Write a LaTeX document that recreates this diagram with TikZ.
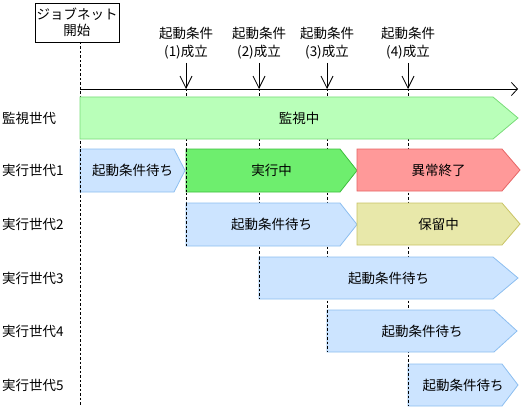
\documentclass[tikz,border=0pt]{standalone}
\usepackage{fontspec}
\setmainfont{Noto Sans CJK JP}
\usetikzlibrary{arrows.meta}
\definecolor{monfill}{RGB}{185,255,185}
\definecolor{mondraw}{RGB}{120,220,120}
\definecolor{waitfill}{RGB}{204,228,255}
\definecolor{waitdraw}{RGB}{140,190,240}
\definecolor{runfill}{RGB}{110,238,110}
\definecolor{rundraw}{RGB}{60,190,60}
\definecolor{errfill}{RGB}{255,153,153}
\definecolor{errdraw}{RGB}{230,100,100}
\definecolor{holdfill}{RGB}{232,232,170}
\definecolor{holddraw}{RGB}{200,195,100}
\tikzset{
  dashline/.style={line width=0.8pt, dash pattern=on 2.5pt off 2pt},
  monbar/.style={fill=monfill, draw=mondraw, line width=0.8pt},
  waitbar/.style={fill=waitfill, draw=waitdraw, line width=0.8pt},
  runbar/.style={fill=runfill, draw=rundraw, line width=0.8pt},
  errbar/.style={fill=errfill, draw=errdraw, line width=0.8pt},
  holdbar/.style={fill=holdfill, draw=holddraw, line width=0.8pt},
  rowlabel/.style={anchor=west, inner sep=0pt},
  evlabel/.style={align=center, inner sep=0pt, font=\fontsize{13.5}{18}\selectfont},
  evarrow/.style={line width=0.8pt, -{Straight Barb[length=12pt,width=12pt,line width=0.8pt]}},
  axisline/.style={line width=0.8pt, -{Straight Barb[length=6pt,width=13pt,line width=0.8pt]}},
}
% style, name, x1, x2, ytop, ybot, depth, text
\newcommand\genbar[8]{%
  \draw[#1] (#3,#5) -- ({#4-#7},#5) -- (#4,{(#5+#6)/2}) -- ({#4-#7},#6) -- (#3,#6) -- cycle;
  \node[inner sep=0pt] (#2) at ({(#3+#4)/2},{(#5+#6)/2}) {#8};
}
\begin{document}
\begin{tikzpicture}[x=1pt,y=-1pt,font=\fontsize{13.5}{16}\selectfont]
\useasboundingbox (0,0) rectangle (528,412);

% start box
\node[draw, line width=0.8pt, minimum width=84pt, minimum height=39pt, inner sep=0pt, align=center,
      font=\fontsize{13.5}{15.5}\selectfont] (start) at (77,22.5) {ジョブネット\\開始};

% coordinates
\coordinate (s0) at (80,42);
\coordinate (s1) at (80,405);
\coordinate (a0) at (80,89);
\coordinate (a1) at (518,89);
\coordinate (e1t) at (186,63);  \coordinate (e1) at (186,89);
\coordinate (e2t) at (259,63);  \coordinate (e2) at (259,89);
\coordinate (e3t) at (327,63);  \coordinate (e3) at (327,89);
\coordinate (e4t) at (408,63);  \coordinate (e4) at (408,89);
\coordinate (d1) at (186,246);
\coordinate (d2) at (259,299);
\coordinate (d3) at (327,352);
\coordinate (d4) at (408,406);

% dashed guide lines
\draw[dashline] (s0) -- (s1);
\draw[dashline] (e1) -- (d1);
\draw[dashline] (e2) -- (d2);
\draw[dashline] (e3) -- (d3);
\draw[dashline] (e4) -- (d4);

% axis and events
\draw[axisline] (a0) -- (a1);
\draw[evarrow] (e1t) -- (e1);
\draw[evarrow] (e2t) -- (e2);
\draw[evarrow] (e3t) -- (e3);
\draw[evarrow] (e4t) -- (e4);
\node[evlabel] (l1) at (186,43) {起動条件\\(1)成立};
\node[evlabel] (l2) at (259,43) {起動条件\\(2)成立};
\node[evlabel] (l3) at (327,43) {起動条件\\(3)成立};
\node[evlabel] (l4) at (408,43) {起動条件\\(4)成立};

% row labels
\node[rowlabel] (r0) at (2,118) {監視世代};
\node[rowlabel] (r1) at (2,170) {実行世代1};
\node[rowlabel] (r2) at (2,224) {実行世代2};
\node[rowlabel] (r3) at (2,278) {実行世代3};
\node[rowlabel] (r4) at (2,331) {実行世代4};
\node[rowlabel] (r5) at (2,385) {実行世代5};

% bars
\genbar{monbar}{b0}{80}{518}{97}{139}{25}{監視中}
\genbar{waitbar}{b1a}{80}{185}{149}{192}{11}{起動条件待ち}
\genbar{runbar}{b1b}{186}{357}{149}{192}{17}{実行中}
\genbar{errbar}{b1c}{357}{520}{149}{191}{18}{異常終了}
\genbar{waitbar}{b2a}{186}{357}{203}{246}{17}{起動条件待ち}
\genbar{holdbar}{b2b}{357}{520}{203}{245}{18}{保留中}
\genbar{waitbar}{b3}{259}{518}{257}{299}{25}{起動条件待ち}
\genbar{waitbar}{b4}{327}{517}{310}{352}{23}{起動条件待ち}
\genbar{waitbar}{b5}{408}{518}{364}{406}{16}{起動条件待ち}

% dashed left edges over bars
\coordinate (g1t) at (80,149);  \coordinate (g1b) at (80,192);
\coordinate (h1t) at (186,149); \coordinate (h1b) at (186,192);
\coordinate (g2t) at (186,203); \coordinate (g2b) at (186,246);
\coordinate (g3t) at (259,257); \coordinate (g3b) at (259,299);
\coordinate (g4t) at (327,310); \coordinate (g4b) at (327,352);
\coordinate (g5t) at (408,364); \coordinate (g5b) at (408,406);
\draw[dashline] (g1t) -- (g1b);
\draw[dashline] (h1t) -- (h1b);
\draw[dashline] (g2t) -- (g2b);
\draw[dashline] (g3t) -- (g3b);
\draw[dashline] (g4t) -- (g4b);
\draw[dashline] (g5t) -- (g5b);
\end{tikzpicture}
\end{document}
